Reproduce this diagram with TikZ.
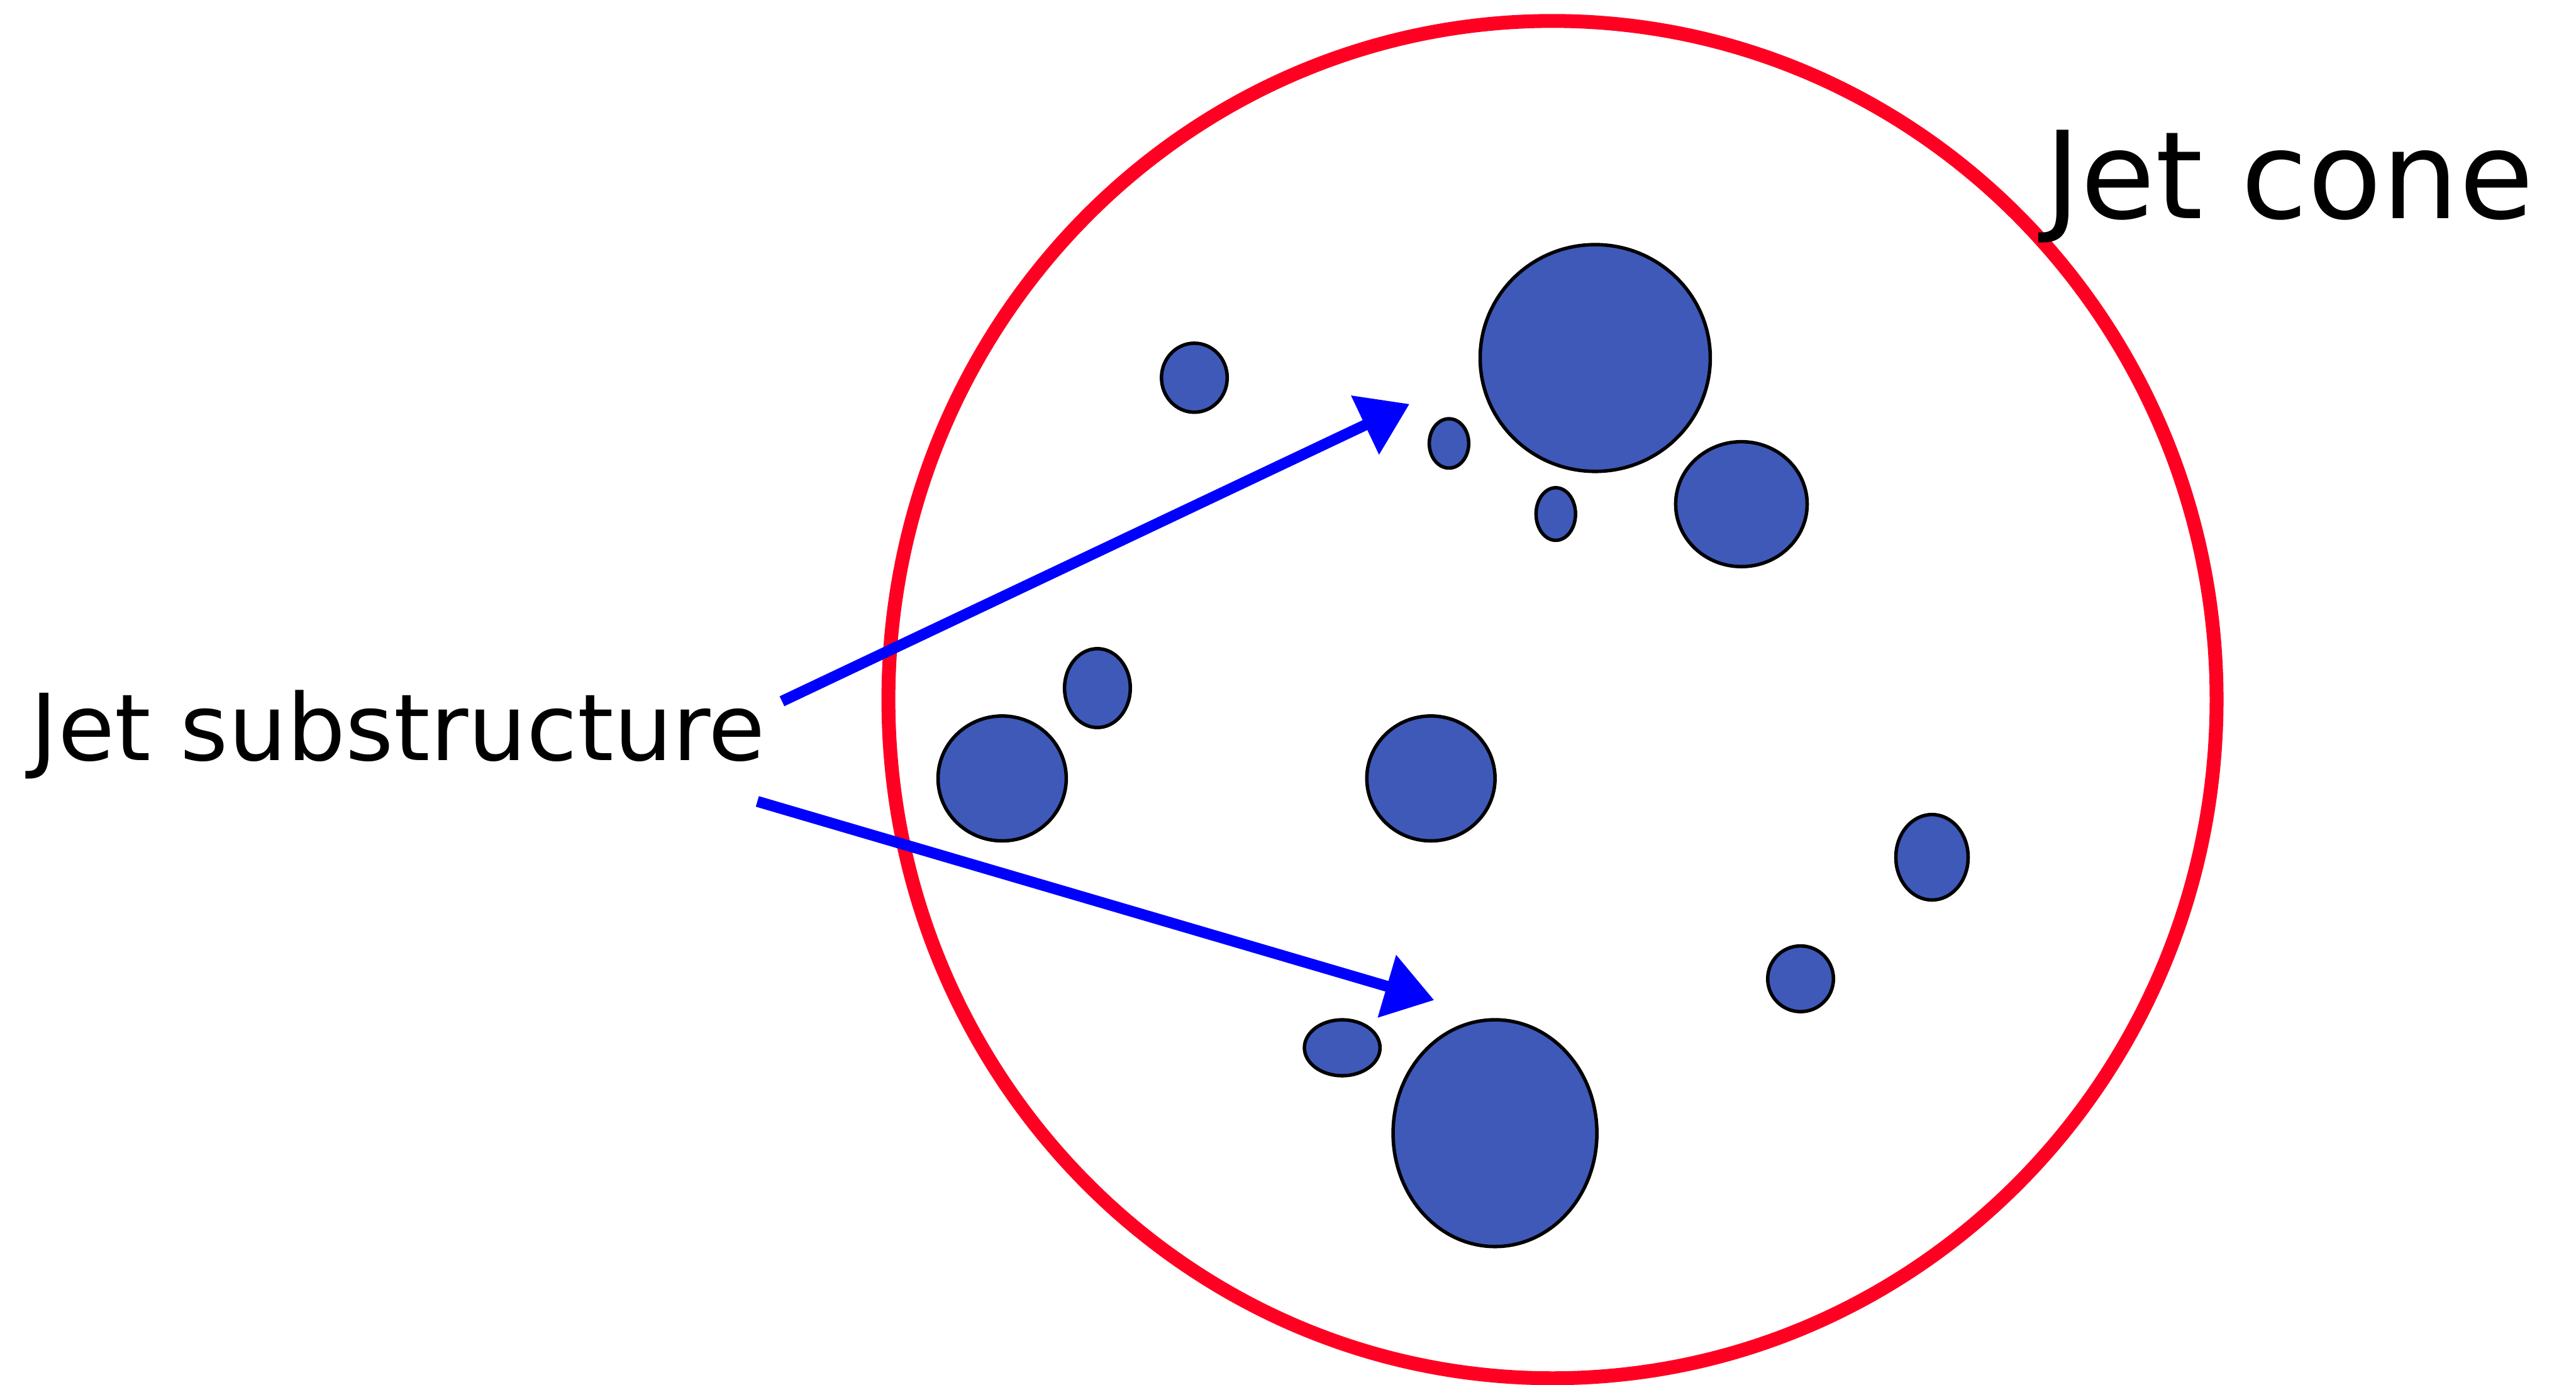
\documentclass[tikz,border=0pt]{standalone}
\usepackage{fontspec}
\setmainfont{DejaVu Sans}
\usetikzlibrary{arrows.meta,shapes.geometric}
\definecolor{conered}{RGB}{255,0,34}
\definecolor{blobblue}{RGB}{63,89,185}

\begin{document}
\begin{tikzpicture}[x=0.01cm,y=-0.01cm,
    blob/.style 2 args={ellipse,draw=black,line width=0.6pt,fill=blobblue,
      inner sep=0pt,minimum width=#1,minimum height=#2},
    pointer/.style={draw=blue,line width=1.9pt,
      -{Triangle[length=0.30cm,width=0.38cm]}}]
  \useasboundingbox (0,0) rectangle (1568,843);
  % jet cone
  \node[ellipse,draw=conered,line width=2.4pt,inner sep=0pt,
    minimum width=8.08cm,minimum height=8.26cm] (cone) at (945,426) {};
  \node[anchor=base west,inner sep=0pt,font=\fontsize{21}{25}\selectfont] (conelbl) at (1244,133) {Jet cone};
  % subjets
  \node[blob={0.40cm}{0.42cm}] (b1) at (727,230) {};
  \node[blob={1.40cm}{1.38cm}] (b2) at (971,218) {};
  \node[blob={0.24cm}{0.30cm}] (b3) at (882,270) {};
  \node[blob={0.24cm}{0.32cm}] (b4) at (947,313) {};
  \node[blob={0.80cm}{0.76cm}] (b5) at (1060,307) {};
  \node[blob={0.40cm}{0.48cm}] (b6) at (668,419) {};
  \node[blob={0.78cm}{0.76cm}] (b7) at (610,474) {};
  \node[blob={0.78cm}{0.76cm}] (b8) at (871,474) {};
  \node[blob={0.44cm}{0.52cm}] (b9) at (1176,522) {};
  \node[blob={0.40cm}{0.40cm}] (b10) at (1096,596) {};
  \node[blob={0.46cm}{0.34cm}] (b11) at (817,638) {};
  \node[blob={1.24cm}{1.38cm}] (b12) at (910,690) {};
  % label and pointers
  \node[anchor=base west,inner sep=0pt,font=\fontsize{16}{19}\selectfont] (sublbl) at (18,463) {Jet substructure};
  \coordinate (s1) at (476,427);
  \coordinate (t1) at (858,246);
  \coordinate (s2) at (461,488);
  \coordinate (t2) at (873,609);
  \draw[pointer] (s1) -- (t1);
  \draw[pointer] (s2) -- (t2);
\end{tikzpicture}
\end{document}
